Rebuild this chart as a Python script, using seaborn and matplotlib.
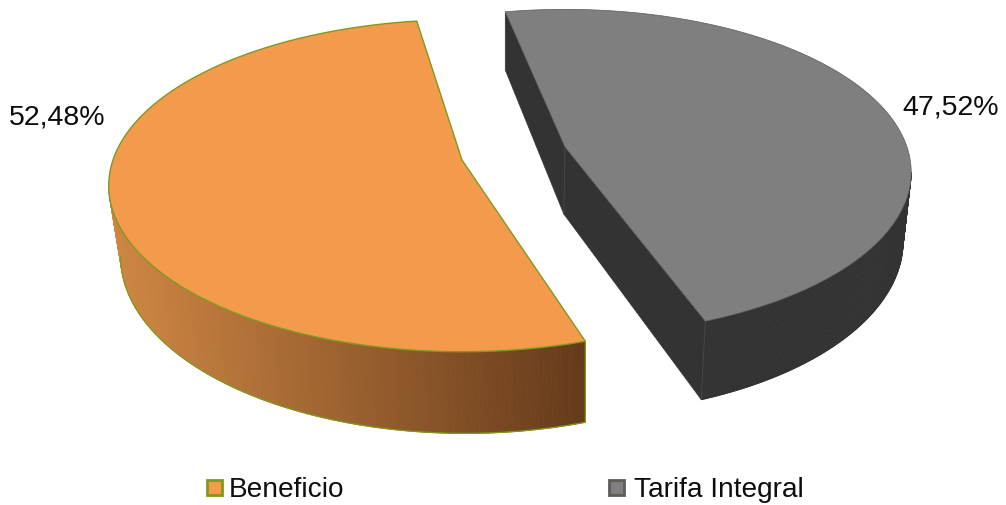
import numpy as np
import seaborn as sns
from matplotlib import pyplot as plt
from matplotlib.collections import PolyCollection
from matplotlib.patches import Rectangle

labels = ["Beneficio", "Tarifa Integral"]
shares = [52.48, 47.52]
top_colors = ["#F39A4C", "#7F7F7F"]
edge_colors = ["#7F9A1E", "#5E5A55"]

sns.set_theme(style="white")
plt.rcParams['font.family'] = ['Liberation Sans', 'DejaVu Sans']

#   perspective of the tilted pie, all in pixels of the picture
PERSP = 0.155


def project(t, z, slc):
    w = 1 + PERSP * np.sin(t)
    x = slc['cx'] + slc['rx'] * np.cos(t) / w
    y = slc['cy'] - slc['tilt'] * np.sin(t) / w + slc['depth'] * z / w
    return slc['xvan'] + (x - slc['xvan']) * (1 - slc['shrink'] * z), y


def apex(z, slc):
    x = slc['xvan'] + (slc['cx'] - slc['xvan']) * (1 - slc['shrink'] * z)
    y = slc['cy'] + slc['depth'] * z
    return x, y


def wall(ax, t, colors, edge, slc):
    xt, yt = project(t, 0, slc)
    xb, yb = project(t, 1, slc)
    quads = [
        [(xt[i], yt[i]), (xt[i+1], yt[i+1]), (xb[i+1], yb[i+1]), (xb[i], yb[i])]
        for i in range(len(t) - 1)
    ]
    ax.add_collection(PolyCollection(
        quads, facecolors=colors, edgecolors=colors, linewidths=0.6, zorder=2
    ))
    ax.plot(xb, yb, color=edge, lw=0.9, zorder=3)
    ax.plot([xb[-1], xt[-1]], [yb[-1], yt[-1]], color=edge, lw=0.9, zorder=3)


fig = plt.figure(figsize=(10.06, 5.05), dpi=100)
ax = fig.add_axes([0, 0, 1, 1])
ax.set_xlim(0, 1006)
ax.set_ylim(505, 0)
ax.axis('off')

#   orange slice
orange = dict(cx=462, cy=160, rx=349, tilt=162, depth=69, shrink=0.025, xvan=585)
start = 98.6
stop = start + shares[0] * 3.6
t = np.radians(np.linspace(189, stop, 160))
xs, _ = project(t, 1, orange)
ramp = sns.blend_palette(["#CF8643", "#643A1A"], 200)
wall(ax, t, [ramp[int((x - xs.min()) / (xs.max() - xs.min()) * 199)] for x in xs[:-1]], edge_colors[0], orange)
t = np.radians(np.linspace(start, stop, 300))
x, y = project(t, 0, orange)
ax.fill(
    np.r_[orange['cx'], x], np.r_[orange['cy'], y], facecolor=top_colors[0],
    edgecolor=edge_colors[0], lw=1, joinstyle='round', zorder=4
)

#   gray slice, the two cut faces show on its left
gray = dict(cx=565, cy=147, rx=342, tilt=159, depth=67, shrink=0.02, xvan=505)
start = 101.6
stop = start - shares[1] * 3.6
for a in [start, stop]:
    ta = np.radians(a)
    x0, y0 = project(ta, 0, gray)
    x1, y1 = project(ta, 1, gray)
    ax0, ay0 = apex(0, gray)
    ax1, ay1 = apex(1, gray)
    ax.fill([ax0, x0, x1, ax1], [ay0, y0, y1, ay1], color="#333333", lw=0.5, zorder=1)
ax.plot([apex(0, gray)[0], apex(1, gray)[0]], [apex(0, gray)[1], apex(1, gray)[1]], color="#4A4641", lw=0.7, zorder=2)
t = np.radians(np.linspace(stop, -9, 120))
wall(ax, t, ["#333333"] * (len(t) - 1), "#333333", gray)
xv, yv = project(np.radians(stop), 0, gray)
xw, yw = project(np.radians(stop), 1, gray)
ax.plot([xv, xw], [yv, yw], color="#4A4641", lw=0.7, zorder=3)
t = np.radians(np.linspace(stop, start, 300))
x, y = project(t, 0, gray)
ax.fill(
    np.r_[gray['cx'], x], np.r_[gray['cy'], y], facecolor=top_colors[1],
    edgecolor=edge_colors[1], lw=0.5, joinstyle='round', zorder=4
)

#   value labels
for share, lx, ly in zip(shares, [105, 999], [125, 114]):
    ax.text(lx, ly, f"{share:.2f}%".replace('.', ','), fontsize=20.5, color='#0D0D0D',
            ha='right', va='baseline')

#   legend
for label, color, edge, kx, tx in zip(labels, top_colors, edge_colors, [207, 609], [229, 634]):
    ax.add_patch(Rectangle((kx, 480), 15, 15, facecolor=color, edgecolor=edge, lw=2))
    ax.text(tx, 497, label, fontsize=20.2, color='#0D0D0D', ha='left', va='baseline')

plt.savefig("out.png", dpi=100)
